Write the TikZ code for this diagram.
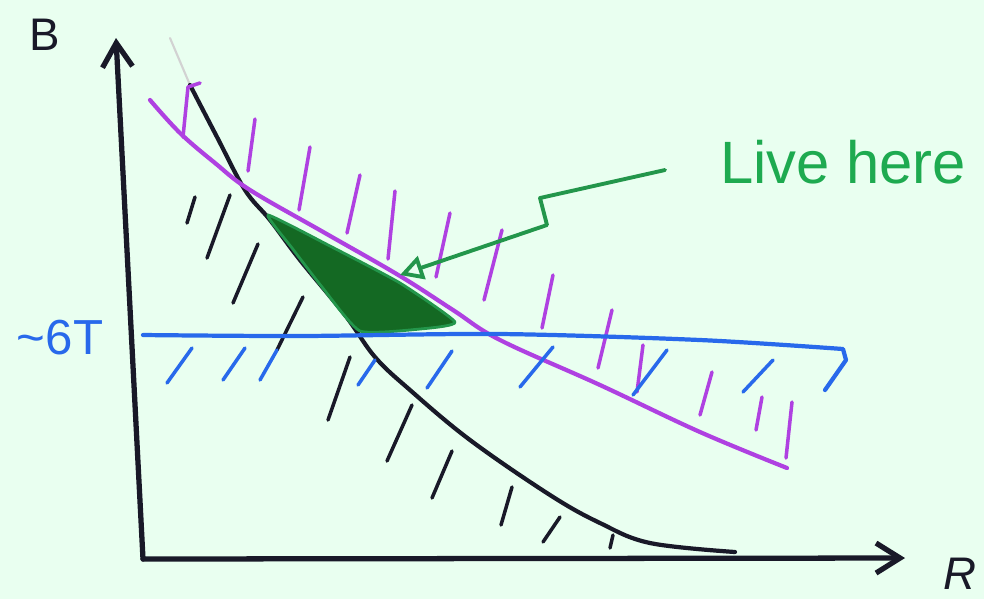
\documentclass[tikz,border=0pt]{standalone}
\usepackage{fontspec}
\setmainfont{Liberation Sans}
\usetikzlibrary{arrows.meta}
\usetikzlibrary{positioning}
\usetikzlibrary{calc}

\definecolor{paper}{RGB}{233,255,240}
\definecolor{inkblack}{RGB}{25,25,40}
\definecolor{inkmagenta}{RGB}{175,65,225}
\definecolor{inkblue}{RGB}{40,105,235}
\definecolor{inkgreen}{RGB}{35,150,75}
\definecolor{textgreen}{RGB}{30,170,80}
\definecolor{fillgreen}{RGB}{20,105,35}

\begin{document}
\begin{tikzpicture}[x=0.1mm, y=-0.1mm, line cap=round, line join=round,
    axis/.style={draw=inkblack, line width=1.5pt},
    curve/.style={line width=1.2pt},
    hatch/.style={line width=1pt},
    sketchlabel/.style={inner sep=0pt, font=\fontsize{13}{15}\selectfont}]

        % Paper and frame
        \fill[paper] (0,0) rectangle (984,599);
        \useasboundingbox (0,0) rectangle (984,599);

        % Axes corner and ends
        \coordinate (origin) at (143,559);
        \coordinate (btop) at (116,38);
        \coordinate (rend) at (905,558);

        \draw[axis, -{Straight Barb[length=2.4mm, width=3mm]}] (origin) -- (btop);
        \draw[axis, -{Straight Barb[length=2.4mm, width=3mm]}] (origin) -- (rend);

        \node[sketchlabel, text=inkblack] (B) at (45,35) {B};
        \node[sketchlabel, text=inkblack, font=\fontsize{13}{15}\selectfont\itshape] (R) at (960,574) {R};

        % Faint start of the black curve
        \draw[gray!35, line width=0.6pt] (170,38) -- (190,85);

        % Black curve and its hatches
        \draw[inkblack, curve] plot[smooth, tension=0.6] coordinates {(190,85) (217,137) (245,190) (270,220) (300,260) (345,315) (375,357) (410,390) (470,440) (550,495) (600,523) (650,543) (735,552)};

        \foreach \xa/\ya/\xb/\yb in {195/197/187/223, 230/195/207/258, 258/244/233/303, 303/297/277/350, 350/357/328/420, 412/405/387/461, 452/451/432/498, 512/487/501/525, 560/517/543/542, 613/535/610/548} {
          \draw[inkblack, hatch] (\xa,\ya) -- (\xb,\yb);
        }

        % Green region
        \fill[fillgreen] plot[smooth cycle, tension=0.3] coordinates {(268,215) (330,246) (400,283) (455,322) (420,329) (360,331) (322,287) (292,248)};
        \draw[inkgreen, line width=0.8pt] plot[smooth cycle, tension=0.3] coordinates {(268,215) (330,246) (400,283) (455,322) (420,329) (360,331) (322,287) (292,248)};

        % Magenta curve and its hatches
        \draw[inkmagenta, curve] plot[smooth, tension=0.6] coordinates {(150,100) (180,133) (215,163) (250,190) (325,233) (400,276) (453,310) (500,340) (600,385) (700,432) (787,468)};

        \draw[inkmagenta, hatch] (200,83) -- (188,87);
        \foreach \xa/\ya/\xb/\yb in {188/87/183/137, 255/119/248/171, 310/147/299/210, 360/175/347/233, 395/191/388/259, 450/213/436/277, 502/230/484/300, 553/275/542/328, 612/310/598/368, 643/345/637/392, 712/372/700/415, 762/397/756/430, 792/402/786/458} {
          \draw[inkmagenta, hatch] (\xa,\ya) -- (\xb,\yb);
        }

        % Blue line and its hatches
        \draw[inkblue, curve] plot[smooth, tension=0.5] coordinates {(143,335) (300,336) (500,334) (700,340) (843,349)} -- (846,360) -- (825,390);

        \foreach \xa/\ya/\xb/\yb in {192/348/167/383, 245/348/223/380, 277/350/260/380, 375/360/358/385, 452/351/427/388, 553/347/520/387, 667/350/633/395, 773/360/743/392} {
          \draw[inkblue, hatch] (\xa,\ya) -- (\xb,\yb);
        }

        \node[sketchlabel, text=inkblue, font=\fontsize{14}{16}\selectfont] (sixT) at (60,338) {\textasciitilde 6T};

        % Pointer to the green region
        \node[sketchlabel, text=textgreen, font=\fontsize{17}{20}\selectfont] (live) at (843,162) {Live here};
        \coordinate (tail) at (665,170);
        \coordinate (tip) at (400,275);
        \draw[inkgreen, line width=1.1pt, -{Triangle[open, length=2.3mm, width=2.4mm]}] (tail) -- (540,198) -- (547,225) -- (tip);

      \end{tikzpicture}
\end{document}
